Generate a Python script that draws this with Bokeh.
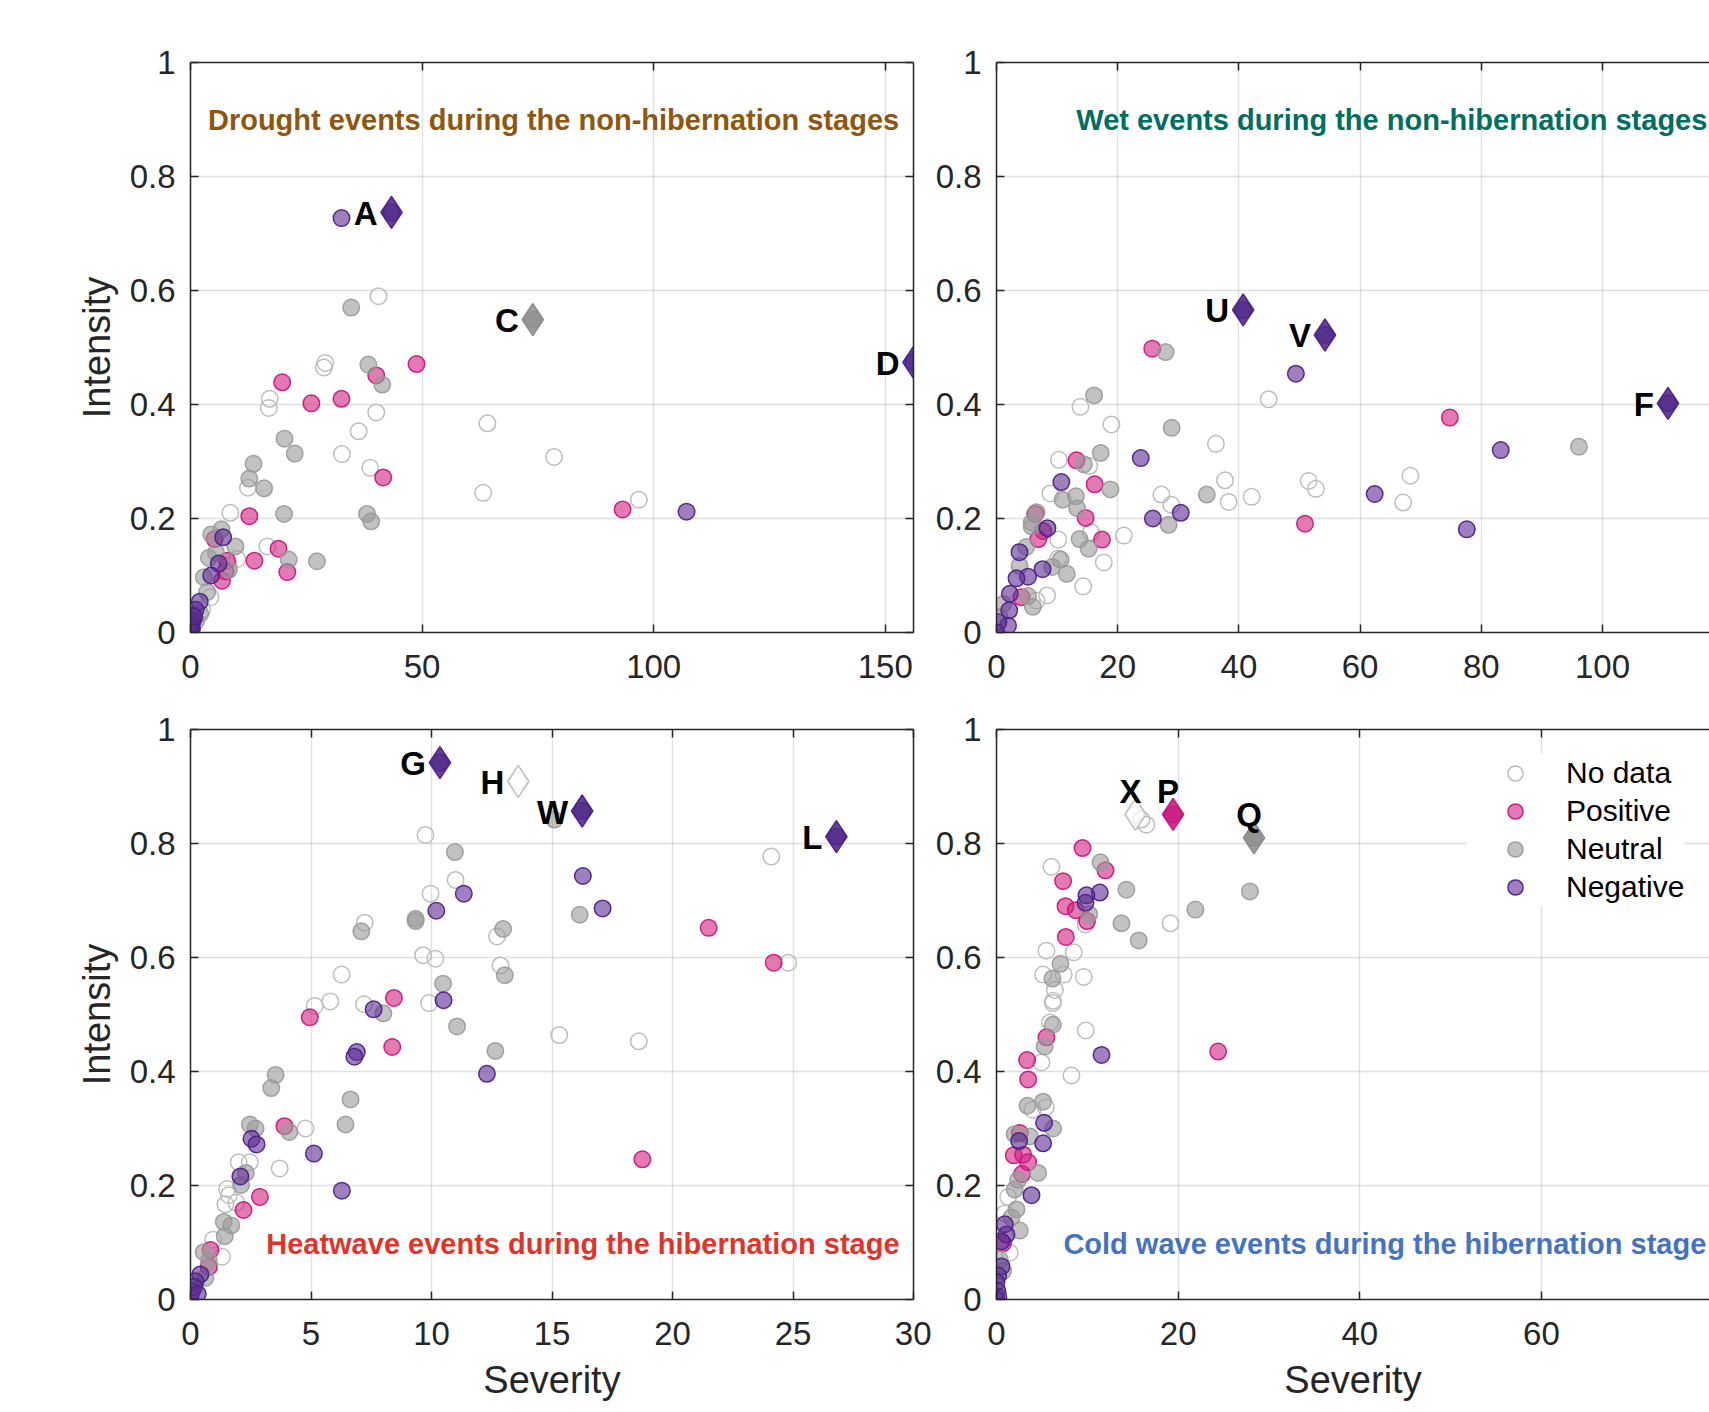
from bokeh.plotting import figure
from bokeh.layouts import column, row
from bokeh.models import LinearAxis, FixedTicker, Range1d, Legend, LegendItem
from bokeh.core.properties import value
from bokeh.embed import file_html
from bokeh.resources import INLINE

CATEGORIES = ["No data", "Positive", "Neutral", "Negative"]
Y_TICKS = [0, 0.2, 0.4, 0.6, 0.8, 1]

# ---------------- Drought events (non-hibernation) ----------------
drought_nodata_sev = [40.6, 29.1, 28.8, 17.1, 16.9, 40.1, 64.1, 36.3, 32.7, 78.5, 38.8, 12.4, 63.2, 96.8, 8.6, 16.6, 10.1, 8.2, 4.3, 2.5]
drought_nodata_int = [0.590, 0.473, 0.465, 0.410, 0.394, 0.386, 0.367, 0.353, 0.313, 0.308, 0.289, 0.254, 0.245, 0.233, 0.210, 0.151, 0.129, 0.118, 0.062, 0.040]
drought_pos_sev = [19.8, 40.1, 48.8, 26.1, 32.6, 41.6, 12.7, 19.0, 13.8, 20.9, 7.9, 7.55, 6.8, 5.2, 93.3]
drought_pos_int = [0.439, 0.451, 0.471, 0.402, 0.410, 0.272, 0.204, 0.147, 0.126, 0.106, 0.126, 0.107, 0.091, 0.164, 0.216]
drought_neu_sev = [34.7, 38.4, 41.4, 20.3, 22.5, 13.6, 12.7, 15.9, 20.2, 38.1, 39.0, 6.7, 4.5, 9.7, 21.2, 27.3, 3.96, 8.3, 2.9, 3.6, 2.1, 1.2, 5.5]
drought_neu_int = [0.570, 0.470, 0.435, 0.340, 0.314, 0.296, 0.270, 0.253, 0.208, 0.208, 0.195, 0.181, 0.172, 0.151, 0.128, 0.125, 0.131, 0.110, 0.097, 0.071, 0.033, 0.020, 0.140]
drought_neg_sev = [32.6, 107.1, 7.05, 6.1, 4.46, 2.0, 1.1, 0.36, 0.0, 0.2, 0.5, 0.1, 0.3, 0.8, 0.15]
drought_neg_int = [0.727, 0.212, 0.167, 0.121, 0.100, 0.054, 0.040, 0.030, 0.010, 0.005, 0.020, 0.015, 0.008, 0.028, 0.0]
drought_mark_labels = ["A", "C", "D"]
drought_mark_sev = [43.4, 73.9, 156.1]
drought_mark_int = [0.737, 0.549, 0.474]
drought_mark_cat = ["Negative", "Neutral", "Negative"]

# ---------------- Wet events (non-hibernation) ----------------
wet_nodata_sev = [13.85, 18.96, 36.2, 10.3, 15.3, 37.7, 38.3, 27.2, 28.85, 8.9, 10.2, 15.6, 21.0, 17.7, 10.2, 14.3, 8.35, 6.6, 44.9, 68.3, 67.1, 51.5, 52.7, 42.1]
wet_nodata_int = [0.396, 0.365, 0.331, 0.303, 0.292, 0.267, 0.229, 0.242, 0.224, 0.244, 0.163, 0.176, 0.170, 0.123, 0.130, 0.081, 0.065, 0.056, 0.409, 0.275, 0.228, 0.266, 0.252, 0.238]
wet_pos_sev = [25.7, 13.2, 16.2, 14.7, 6.4, 7.7, 6.9, 17.4, 4.1, 74.8, 50.9]
wet_pos_int = [0.498, 0.302, 0.260, 0.201, 0.208, 0.178, 0.164, 0.163, 0.062, 0.377, 0.191]
wet_neu_sev = [27.9, 16.1, 28.9, 17.2, 14.4, 18.8, 34.7, 28.4, 13.1, 10.9, 13.3, 6.6, 5.8, 5.8, 13.7, 15.2, 4.9, 10.6, 9.2, 11.6, 3.8, 5.2, 6.0, 1.1, 0.5, 96.1]
wet_neu_int = [0.492, 0.416, 0.359, 0.315, 0.295, 0.251, 0.242, 0.189, 0.239, 0.233, 0.218, 0.211, 0.193, 0.186, 0.164, 0.147, 0.150, 0.128, 0.115, 0.103, 0.117, 0.064, 0.045, 0.050, 0.027, 0.326]
wet_neg_sev = [23.8, 10.7, 30.4, 25.8, 8.4, 3.8, 7.6, 5.2, 3.3, 2.2, 2.1, 1.9, 0.3, 0.0, 49.4, 83.2, 62.4, 77.6]
wet_neg_int = [0.306, 0.264, 0.210, 0.200, 0.183, 0.141, 0.111, 0.098, 0.095, 0.068, 0.039, 0.012, 0.018, 0.0, 0.454, 0.320, 0.243, 0.181]
wet_mark_labels = ["U", "V", "F"]
wet_mark_sev = [40.7, 54.2, 110.8]
wet_mark_int = [0.566, 0.522, 0.402]
wet_mark_cat = ["Negative", "Negative", "Negative"]

# ---------------- Heatwave events (hibernation) ----------------
heat_nodata_sev = [9.75, 11.0, 9.96, 7.23, 12.72, 9.65, 10.16, 12.86, 6.27, 5.8, 5.16, 7.2, 9.9, 4.77, 3.7, 2.0, 2.46, 1.52, 1.59, 1.45, 1.9, 0.94, 1.31, 24.1, 24.8, 15.3, 18.6]
heat_nodata_int = [0.815, 0.736, 0.712, 0.661, 0.637, 0.604, 0.598, 0.586, 0.570, 0.523, 0.515, 0.518, 0.520, 0.300, 0.230, 0.241, 0.241, 0.194, 0.183, 0.167, 0.170, 0.105, 0.075, 0.777, 0.591, 0.464, 0.453]
heat_pos_sev = [8.44, 4.95, 8.37, 3.9, 2.88, 2.2, 0.83, 0.76, 21.5, 24.2, 18.75]
heat_pos_int = [0.529, 0.495, 0.443, 0.304, 0.180, 0.157, 0.087, 0.057, 0.652, 0.591, 0.246]
heat_neu_sev = [15.1, 10.97, 9.34, 9.34, 7.09, 16.15, 12.97, 13.04, 10.48, 8.0, 11.06, 12.65, 3.53, 3.35, 6.64, 6.43, 2.46, 2.7, 4.1, 2.3, 2.1, 1.38, 1.69, 1.42, 0.55, 0.76, 0.62]
heat_neu_int = [0.842, 0.785, 0.668, 0.664, 0.646, 0.675, 0.650, 0.569, 0.554, 0.502, 0.479, 0.436, 0.394, 0.371, 0.351, 0.307, 0.307, 0.300, 0.294, 0.222, 0.201, 0.136, 0.130, 0.111, 0.083, 0.068, 0.038]
heat_neg_sev = [16.28, 11.34, 10.2, 17.1, 7.6, 10.5, 6.9, 6.8, 12.3, 5.12, 2.53, 2.74, 6.28, 2.07, 0.41, 0.21, 0.07, 0.0, 0.15, 0.3]
heat_neg_int = [0.743, 0.712, 0.682, 0.686, 0.509, 0.525, 0.434, 0.426, 0.396, 0.256, 0.282, 0.272, 0.191, 0.216, 0.044, 0.032, 0.015, 0.006, 0.022, 0.010]
heat_mark_labels = ["G", "H", "W", "L"]
heat_mark_sev = [10.35, 13.6, 16.25, 26.8]
heat_mark_int = [0.942, 0.909, 0.857, 0.812]
heat_mark_cat = ["Negative", "No data", "Negative", "Negative"]

# ---------------- Cold wave events (hibernation) ----------------
cold_nodata_sev = [6.2, 5.9, 9.83, 4.95, 8.25, 3.96, 5.43, 1.28, 0.91, 1.46, 15.96, 16.5, 19.15, 6.05, 9.8, 5.5, 8.5, 5.13, 7.4, 9.6, 6.42, 6.23]
cold_nodata_int = [0.520, 0.486, 0.472, 0.416, 0.393, 0.333, 0.337, 0.180, 0.151, 0.082, 0.842, 0.833, 0.660, 0.759, 0.658, 0.612, 0.609, 0.570, 0.570, 0.566, 0.543, 0.524]
cold_pos_sev = [5.5, 3.37, 3.48, 2.56, 1.9, 2.93, 3.48, 2.82, 0.73, 24.4, 9.47, 12.0, 7.33, 7.6, 8.73, 9.97, 7.63]
cold_pos_int = [0.460, 0.420, 0.386, 0.292, 0.253, 0.254, 0.241, 0.220, 0.099, 0.435, 0.792, 0.753, 0.734, 0.690, 0.683, 0.664, 0.636]
cold_neu_sev = [6.2, 5.3, 3.41, 5.13, 6.23, 2.0, 3.66, 4.58, 2.38, 2.0, 2.2, 1.65, 2.56, 0.36, 0.73, 27.9, 21.9, 11.45, 14.3, 10.2, 13.76, 15.66, 7.04, 6.16]
cold_neu_int = [0.482, 0.444, 0.340, 0.347, 0.300, 0.290, 0.286, 0.222, 0.210, 0.193, 0.158, 0.144, 0.121, 0.070, 0.050, 0.716, 0.684, 0.767, 0.719, 0.676, 0.660, 0.630, 0.589, 0.563]
cold_neg_sev = [11.56, 5.24, 5.13, 2.49, 3.85, 0.91, 1.1, 0.55, 0.55, 0.18, 0.0, 0.1, 0.2, 0.0, 11.37, 9.9, 9.8]
cold_neg_int = [0.429, 0.310, 0.274, 0.278, 0.183, 0.132, 0.114, 0.102, 0.058, 0.042, 0.030, 0.015, 0.005, 0.0, 0.714, 0.709, 0.696]
cold_mark_labels = ["X", "P", "Q"]
cold_mark_sev = [15.3, 19.44, 28.35]
cold_mark_int = [0.851, 0.851, 0.810]
cold_mark_cat = ["No data", "Positive", "Neutral"]

# ---------------- styles ----------------
FONT = "Liberation Sans"
INK = "#262626"
CIRCLE_STYLE = {
    "No data": dict(fill_color=None, line_color="#BDBDBD", line_alpha=1.0),
    "Positive": dict(fill_color="#D0237F", fill_alpha=0.6, line_color="#C8177F", line_alpha=0.95),
    "Neutral": dict(fill_color="#999999", fill_alpha=0.6, line_color="#999999", line_alpha=0.9),
    "Negative": dict(fill_color="#5B2C91", fill_alpha=0.6, line_color="#4B2388", line_alpha=0.95),
}
DIAMOND_STYLE = {
    "No data": dict(fill_color="white", fill_alpha=0.7, line_color="#BDBDBD"),
    "Positive": dict(fill_color="#C8177F", fill_alpha=0.88, line_color="#C8177F"),
    "Neutral": dict(fill_color="#8C8C8C", fill_alpha=0.85, line_color="#8C8C8C"),
    "Negative": dict(fill_color="#4F2789", fill_alpha=0.88, line_color="#4F2789"),
}


def style_axis(ax, ticks, labels=True):
    ax.ticker = FixedTicker(ticks=ticks)
    ax.major_tick_in = 8
    ax.major_tick_out = 0
    ax.minor_tick_line_color = None
    ax.major_tick_line_color = INK
    ax.major_tick_line_width = 1.5
    ax.axis_line_color = INK
    ax.axis_line_width = 1.5
    if labels:
        ax.major_label_text_font = FONT
        ax.major_label_text_font_size = "33px"
        ax.major_label_text_color = INK
        ax.major_label_overrides = {t: f"{t:g}" for t in ticks}
    else:
        # box side: tick marks only, no tick labels drawn
        ax.major_label_text_font_size = "1px"
        ax.major_label_text_color = None
        ax.major_label_standoff = 0


def make_panel(data, marks, title, title_color, title_pos, x_end, x_ticks,
               width, height, borders, right_box, show_xlabel, show_ylabel,
               label_above=False, legend=False):
    left, right, top, bottom = borders
    p = figure(width=width, height=height, x_range=Range1d(0, x_end), y_range=Range1d(0, 1),
               output_backend="svg", toolbar_location=None,
               min_border_left=left, min_border_right=right,
               min_border_top=top, min_border_bottom=bottom)
    p.outline_line_color = None
    p.background_fill_color = "white"
    p.border_fill_color = "white"

    xax = p.below[0]
    yax = p.left[0]
    style_axis(xax, x_ticks)
    style_axis(yax, Y_TICKS)
    xax.major_label_standoff = 22
    yax.major_label_standoff = 15
    top_ax = LinearAxis()
    style_axis(top_ax, x_ticks, labels=False)
    p.add_layout(top_ax, "above")
    if right_box:
        right_ax = LinearAxis()
        style_axis(right_ax, Y_TICKS, labels=False)
        p.add_layout(right_ax, "right")

    p.xgrid.ticker = FixedTicker(ticks=x_ticks)
    p.ygrid.ticker = FixedTicker(ticks=Y_TICKS)
    p.grid.grid_line_color = INK
    p.grid.grid_line_alpha = 0.14
    p.grid.grid_line_width = 1.3

    for ax, lab, show in ((xax, "Severity", show_xlabel), (yax, "Intensity", show_ylabel)):
        if show:
            ax.axis_label = lab
            ax.axis_label_text_font = FONT
            ax.axis_label_text_font_size = "38px"
            ax.axis_label_text_font_style = "normal"
            ax.axis_label_text_color = INK
    xax.axis_label_standoff = 11
    yax.axis_label_standoff = 9

    renderers = {}
    for cat in CATEGORIES:
        sev, inten = data[cat]
        renderers[cat] = p.scatter(x=sev, y=inten, marker="circle", size=16.5, line_width=1.5,
                                   **CIRCLE_STYLE[cat])

    labels, msev, mint, mcat = marks
    for lab, s, i, c in zip(labels, msev, mint, mcat):
        p.scatter(x=[s], y=[i], marker="circle", size=16.5, line_width=1.5, **CIRCLE_STYLE[c])
        p.scatter(x=[s], y=[i], marker="diamond", size=32, line_width=1.5, **DIAMOND_STYLE[c])
        if label_above:
            p.text(x=[s], y=[i], text=[lab], text_font=value(FONT), text_font_style="bold",
                   text_font_size="33px", text_color="black", text_align="center",
                   text_baseline="middle", x_offset=-5, y_offset=-23)
        else:
            p.text(x=[s], y=[i], text=[lab], text_font=value(FONT), text_font_style="bold",
                   text_font_size="33px", text_color="black", text_align="right",
                   text_baseline="middle", x_offset=-14, y_offset=1)

    tx, ty = title_pos
    p.text(x=[tx], y=[ty], text=[title], text_font=value(FONT), text_font_style="bold",
           text_font_size="29px", text_color=title_color, text_align="right",
           text_baseline="middle")

    if legend:
        lg = Legend(items=[LegendItem(label=c, renderers=[renderers[c]]) for c in CATEGORIES],
                    location=(471, 393))
        lg.label_text_font = FONT
        lg.label_text_font_size = "30px"
        lg.label_text_color = "black"
        lg.glyph_width = 96
        lg.glyph_height = 38
        lg.label_height = 38
        lg.spacing = 0
        lg.padding = 5
        lg.label_standoff = 3
        lg.border_line_color = None
        lg.background_fill_color = "white"
        lg.background_fill_alpha = 1.0
        p.add_layout(lg)
    return p


def cats(nd_s, nd_i, po_s, po_i, ne_s, ne_i, ng_s, ng_i):
    return {"No data": (nd_s, nd_i), "Positive": (po_s, po_i),
            "Neutral": (ne_s, ne_i), "Negative": (ng_s, ng_i)}


LEFT_W, RIGHT_W = 931, 778
TOP_H, BOT_H = 700, 712

p1 = make_panel(cats(drought_nodata_sev, drought_nodata_int, drought_pos_sev, drought_pos_int,
                     drought_neu_sev, drought_neu_int, drought_neg_sev, drought_neg_int),
                (drought_mark_labels, drought_mark_sev, drought_mark_int, drought_mark_cat),
                "Drought events during the non-hibernation stages", "#8E5710", (153.0, 0.9),
                156.1, [0, 50, 100, 150], LEFT_W, TOP_H, (190, 18, 62, 68),
                True, False, True)

p2 = make_panel(cats(wet_nodata_sev, wet_nodata_int, wet_pos_sev, wet_pos_int,
                     wet_neu_sev, wet_neu_int, wet_neg_sev, wet_neg_int),
                (wet_mark_labels, wet_mark_sev, wet_mark_int, wet_mark_cat),
                "Wet events during the non-hibernation stages", "#006E60", (117.3, 0.9),
                117.65, [0, 20, 40, 60, 80, 100], RIGHT_W, TOP_H, (65, 0, 62, 68),
                False, False, False)

p3 = make_panel(cats(heat_nodata_sev, heat_nodata_int, heat_pos_sev, heat_pos_int,
                     heat_neu_sev, heat_neu_int, heat_neg_sev, heat_neg_int),
                (heat_mark_labels, heat_mark_sev, heat_mark_int, heat_mark_cat),
                "Heatwave events during the hibernation stage", "#E0342B", (29.42, 0.097),
                30, [0, 5, 10, 15, 20, 25, 30], LEFT_W, BOT_H, (190, 18, 29, 113),
                True, True, True)

p4 = make_panel(cats(cold_nodata_sev, cold_nodata_int, cold_pos_sev, cold_pos_int,
                     cold_neu_sev, cold_neu_int, cold_neg_sev, cold_neg_int),
                (cold_mark_labels, cold_mark_sev, cold_mark_int, cold_mark_cat),
                "Cold wave events during the hibernation stage", "#4673C0", (78.15, 0.097),
                78.5, [0, 20, 40, 60], RIGHT_W, BOT_H, (65, 0, 29, 113),
                False, True, False, label_above=True, legend=True)

layout = column(row(p1, p2), row(p3, p4))
open("out.html", "w").write(file_html(layout, INLINE))
